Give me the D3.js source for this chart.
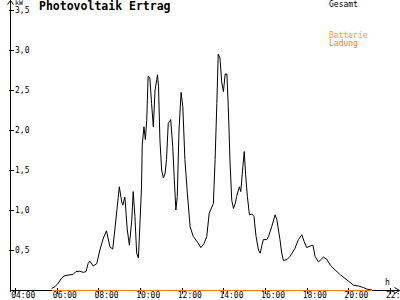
<!DOCTYPE html>
<html>
<head>
<meta charset="utf-8">
<script src="https://cdn.jsdelivr.net/npm/d3@7"></script>
<style>
  body { margin: 0; background: #fff; }
  svg { display: block; font-family: "DejaVu Sans Mono", monospace; }
</style>
</head>
<body>
<div id="chart"></div>
<script>
// Gesamt (kW)
const times = ["05:45","05:54","06:04","06:14","06:23","06:38","06:47","06:55","07:06","07:16",
  "07:24","07:30","07:35","07:45","07:55","08:04","08:14","08:23","08:33","08:41",
  "08:47","09:00","09:07","09:10","09:16","09:23","09:29","09:36","09:40","09:45",
  "09:50","09:55","10:00","10:04","10:06","10:11","10:15","10:19","10:23","10:28",
  "10:33","10:38","10:43","10:48","10:50","10:53","10:57","11:02","11:07","11:12",
  "11:16","11:21","11:28","11:34","11:38","11:43","11:47","11:52","11:58","12:03",
  "12:09","12:16","12:24","12:33","12:45","12:55","13:04","13:12","13:19","13:31",
  "13:36","13:41","13:45","13:50","13:55","14:00","14:05","14:10","14:14","14:19",
  "14:24","14:29","14:34","14:38","14:46","14:50","14:56","15:00","15:04","15:09",
  "15:15","15:22","15:28","15:34","15:41","15:46","15:51","15:55","16:05","16:10",
  "16:19","16:29","16:34","16:40","16:43","16:48","16:53","17:03","17:12","17:26",
  "17:36","17:46","17:53","18:00","18:10","18:18","18:24","18:34","18:41","18:48",
  "18:58","19:08","19:22","19:37","19:56","20:15","20:29","20:44","20:54","21:08"];
const gesamt = [0.02,0.04,0.085,0.15,0.18,0.19,0.195,0.23,0.235,0.22,
  0.23,0.33,0.36,0.30,0.33,0.50,0.65,0.74,0.54,0.51,
  0.75,1.29,1.10,1.06,1.16,0.75,0.56,0.88,1.23,0.92,
  0.46,0.40,0.88,1.29,1.81,2.04,1.88,2.12,2.67,2.65,
  2.33,2.04,2.50,2.63,2.69,2.54,1.88,1.50,1.40,1.46,
  1.63,2.08,2.13,1.79,1.42,1.00,1.17,2.00,2.47,2.29,
  1.63,1.21,0.79,0.67,0.60,0.53,0.58,0.67,0.96,1.08,
  1.63,2.33,2.95,2.90,2.60,2.48,2.70,2.70,2.29,1.60,
  1.12,1.02,1.08,1.17,1.29,1.23,1.54,1.73,1.44,1.17,
  0.94,0.95,0.92,0.67,0.50,0.46,0.56,0.63,0.63,0.67,
  0.79,0.94,0.88,0.71,0.63,0.46,0.37,0.38,0.42,0.52,
  0.63,0.69,0.60,0.53,0.55,0.56,0.42,0.35,0.38,0.41,
  0.385,0.31,0.25,0.19,0.125,0.06,0.05,0.03,0.01,0.0];
// Batterie Ladung (kW): zero all day
const ladung = times.map(() => 0);

const xTicks = [4, 6, 8, 10, 12, 14, 16, 18, 20, 22];
const yTicks = [0.5, 1.0, 1.5, 2.0, 2.5, 3.0, 3.5];

const hours = s => { const p = s.split(":"); return +p[0] + p[1] / 60; };
const pad = n => String(n).padStart(2, "0");

const svg = d3.select("#chart").append("svg")
    .attr("width", 400)
    .attr("height", 300);

const x = d3.scaleLinear().domain([3.75, 22]).range([10, 390]);
const y = d3.scaleLinear().domain([0, 3.5]).range([290, 10]);

// x axis
const xAxis = svg.append("g")
    .attr("transform", "translate(0,290.5)")
    .call(d3.axisBottom(x).tickValues(xTicks).tickSize(3).tickFormat(d => pad(d) + ":00"));
xAxis.select(".domain").remove();
xAxis.selectAll(".tick line").attr("y1", -3).attr("y2", 3);
xAxis.selectAll(".tick text")
    .attr("text-anchor", "start").attr("x", -4.5).attr("y", 7.5).attr("dy", null)
    .attr("font-size", 8).attr("font-family", "DejaVu Sans Mono");
svg.append("line").attr("x1", 10).attr("x2", 400).attr("y1", 290.5).attr("y2", 290.5)
    .attr("stroke", "#000").attr("shape-rendering", "crispEdges");
svg.append("path").attr("d", "M394.5,287.5L399.5,290.5L394.5,293.5")
    .attr("fill", "none").attr("stroke", "#000");

// y axis
const yAxis = svg.append("g")
    .attr("transform", "translate(10.5,0)")
    .call(d3.axisRight(y).tickValues(yTicks).tickSize(3).tickFormat(d => d3.format(".1f")(d).replace(".", ",")));
yAxis.select(".domain").remove();
yAxis.selectAll(".tick line").attr("x1", -2).attr("x2", 3);
yAxis.selectAll(".tick text")
    .attr("x", 4.5).attr("dy", "0.35em")
    .attr("font-size", 8).attr("font-family", "DejaVu Sans Mono");
svg.append("line").attr("x1", 10.5).attr("x2", 10.5).attr("y1", 0).attr("y2", 292)
    .attr("stroke", "#000").attr("shape-rendering", "crispEdges");
svg.append("path").attr("d", "M7.5,4.5L10.5,0.5L13.5,4.5")
    .attr("fill", "none").attr("stroke", "#000");

svg.selectAll(".tick line").attr("shape-rendering", "crispEdges");

// labels
svg.append("text").attr("x", 15).attr("y", 5).attr("font-size", 6.5).text("kW");
svg.append("text").attr("x", 385).attr("y", 285).attr("font-size", 8).text("h");
svg.append("text").attr("x", 39).attr("y", 10).attr("font-size", 11.5)
    .attr("font-weight", "bold").text("Photovoltaik Ertrag");

// legend
svg.append("text").attr("x", 329).attr("y", 7).attr("font-size", 8).attr("fill", "#000").text("Gesamt");
svg.append("text").attr("x", 329).attr("y", 37.5).attr("font-size", 8).attr("fill", "#ffa500").text("Batterie");
svg.append("text").attr("x", 329).attr("y", 46).attr("font-size", 8).attr("fill", "#ff8000").text("Ladung");

// series
const line = d3.line()
    .x((d, i) => x(hours(times[i])))
    .y(d => y(d));

svg.append("path")
    .datum(gesamt)
    .attr("d", line)
    .attr("fill", "none")
    .attr("stroke", "#000")
    .attr("stroke-width", 1);

svg.append("path")
    .datum(ladung)
    .attr("d", line)
    .attr("transform", "translate(0,0.5)")
    .attr("fill", "none")
    .attr("stroke", "#ff8000")
    .attr("stroke-width", 1)
    .attr("shape-rendering", "crispEdges");
</script>
</body>
</html>
